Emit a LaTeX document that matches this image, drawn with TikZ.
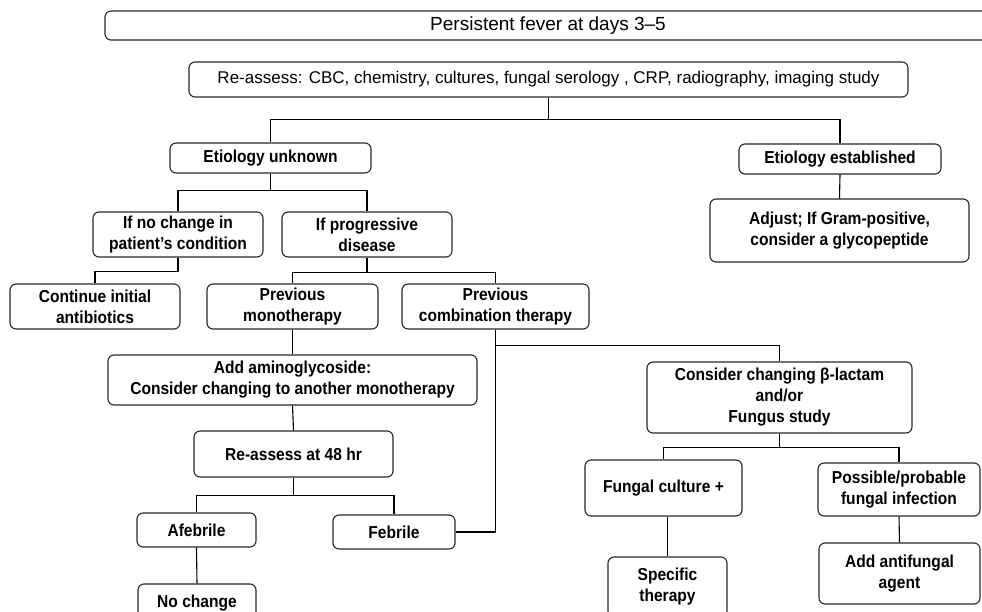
\documentclass[tikz,border=0pt]{standalone}
\usepackage{fontspec}
\setmainfont{Liberation Sans}
\newfontfamily\condfont{Liberation Sans}[FakeStretch=0.9]
\begin{document}
\begin{tikzpicture}[x=1pt,y=-1pt,
  box/.style={draw=black!85, line width=1.1pt, rounded corners=6pt, align=center, inner sep=0pt,
              font=\condfont\bfseries\fontsize{17.3}{21}\selectfont},
  regbox/.style={box, font=\fontsize{17}{21}\selectfont},
  conn/.style={draw=black, line width=1.1pt}]
\useasboundingbox (0,0) rectangle (982,612);
\clip (0,0) rectangle (982,612);

% boxes
\node[regbox, minimum width=886pt, minimum height=29pt, font=\fontsize{19}{22}\selectfont] (top) at (548,25.5) {Persistent fever at days 3–5};
\node[regbox, minimum width=719pt, minimum height=35pt] (ra) at (548.5,79.5) {Re-assess: CBC, chemistry, cultures, fungal serology , CRP, radiography, imaging study};
\node[box, minimum width=201pt, minimum height=30pt] (eu) at (270.5,158) {Etiology unknown};
\node[box, minimum width=202pt, minimum height=30pt] (ee) at (840,159) {Etiology established};
\node[box, minimum width=259pt, minimum height=63pt] (adj) at (839.5,230.5) {Adjust; If Gram-positive,\\consider a glycopeptide};
\node[box, minimum width=170pt, minimum height=45pt] (nc) at (178,234.5) {If no change in\\patient’s condition};
\node[box, minimum width=170pt, minimum height=45pt] (pd) at (367,234.5) {If progressive\\disease};
\node[box, minimum width=170pt, minimum height=45pt] (ci) at (95,306.5) {Continue initial\\antibiotics};
\node[box, minimum width=171pt, minimum height=45pt] (pm) at (292.5,306.5) {Previous\\monotherapy};
\node[box, minimum width=187pt, minimum height=45pt] (pc) at (495.5,306.5) {Previous\\combination therapy};
\node[box, minimum width=369pt, minimum height=50pt] (am) at (292.5,380) {Add aminoglycoside:\\Consider changing to another monotherapy};
\node[box, minimum width=199pt, minimum height=46pt] (r48) at (293.5,454) {Re-assess at 48 hr};
\node[box, minimum width=119pt, minimum height=34pt] (af) at (196.5,530) {Afebrile};
\node[box, minimum width=122pt, minimum height=34pt] (fb) at (394,532) {Febrile};
\node[box, minimum width=118pt, minimum height=38pt] (nch) at (197,603) {No change};
\node[box, minimum width=265pt, minimum height=71pt] (cs) at (779.5,397.5) {Consider changing β-lactam\\and/or\\Fungus study};
\node[box, minimum width=157pt, minimum height=56pt] (fc) at (663.5,488) {Fungal culture +};
\node[box, minimum width=162pt, minimum height=53pt] (pp) at (899,489.5) {Possible/probable\\fungal infection};
\node[box, minimum width=119pt, minimum height=60pt] (st) at (667.5,587) {Specific\\therapy};
\node[box, minimum width=161pt, minimum height=61pt] (aa) at (899.5,573.5) {Add antifungal\\agent};

% connectors
\coordinate (j1) at ([yshift=-22pt]ra.south);
\draw[conn] (ra.south) -- (j1) -| (eu.north);
\draw[conn] (j1) -| (ee.north);
\draw[conn] (ee.south) -- (adj.north);
\coordinate (j2) at ([yshift=-17pt]eu.south);
\draw[conn] (eu.south) -- (j2) -| (nc.north);
\draw[conn] (j2) -| (pd.north);
\draw[conn] (nc.south) -- ++(0,14) -| (ci.north);
\coordinate (j3) at ([yshift=-15pt]pd.south);
\draw[conn] (pd.south) -- (j3) -| (pm.north);
\draw[conn] (j3) -| (pc.north);
\draw[conn] (pm.south) -- (am.north);
\draw[conn] (am.south) -- (r48.north);
\coordinate (j4) at ([yshift=-18pt]r48.south);
\draw[conn] (r48.south) -- (j4) -| (af.north);
\draw[conn] (j4) -| (fb.north);
\draw[conn] (af.south) -- (nch.north);
\draw[conn] (fb.east) -| (pc.south);
\coordinate (j5) at ([yshift=-16pt]pc.south);
\draw[conn] (j5) -| (cs.north);
\coordinate (j6) at ([yshift=-14pt]cs.south);
\draw[conn] (cs.south) -- (j6) -| (fc.north);
\draw[conn] (j6) -| (pp.north);
\draw[conn] (st.north) -- (st.north |- fc.south);
\draw[conn] (pp.south) -- (aa.north);
\end{tikzpicture}
\end{document}
